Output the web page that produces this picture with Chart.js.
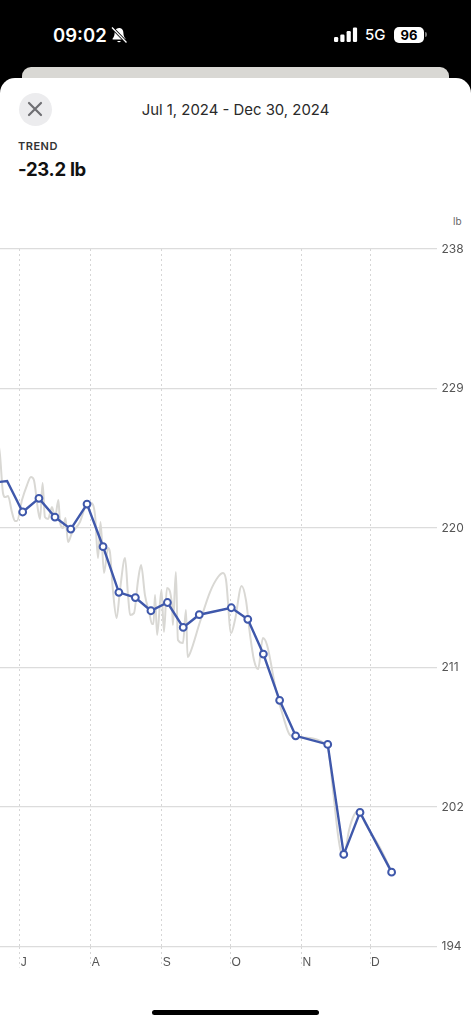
<!DOCTYPE html>
<html>
<head>
<meta charset="utf-8">
<title>Trend</title>
<script src="https://cdn.jsdelivr.net/npm/chart.js@4"></script>
<style>
  html, body { margin: 0; padding: 0; background: #000; }
  body { width: 471px; height: 1024px; position: relative; overflow: hidden; font-family: Inter, "Liberation Sans", sans-serif; }
  .abs { position: absolute; white-space: nowrap; }
  #back { left: 22px; top: 67px; width: 427px; height: 30px; background: #d9d8d4; border-radius: 9px 9px 0 0; }
  #sheet { left: 0; top: 78px; width: 471px; height: 946px; background: #fff; border-radius: 15px 15px 0 0; }
  #close { left: 18.5px; top: 93px; width: 33px; height: 33px; border-radius: 50%; background: #ececee; }
  #range { left: 0; width: 471px; top: 100px; text-align: center; font-size: 14.9px; line-height: 20px; color: #2a2a2a; }
  #label { left: 18px; top: 140px; font-size: 11px; line-height: 13px; font-weight: 600; letter-spacing: .5px; color: #333; }
  #value { left: 18px; top: 158px; font-size: 18.5px; line-height: 23px; font-weight: 700; color: #111; letter-spacing: -.3px; }
  #unit { left: 453px; top: 215px; font-size: 10px; line-height: 13px; color: #666; }
  #time { left: 53px; top: 23px; font-size: 18.5px; line-height: 24px; font-weight: 600; color: #fff; }
  #net { left: 365px; top: 26px; font-size: 15px; line-height: 18px; font-weight: 500; color: #fff; }
  #batt { left: 394px; top: 26.5px; width: 30px; height: 16px; border-radius: 5px; background: #fff; color: #000; text-align: center; font-size: 13px; line-height: 16px; font-weight: 700; }
  #home { left: 152px; top: 1010px; width: 167px; height: 5px; border-radius: 3px; background: #000; }
  #chart { position: absolute; left: 0; top: 240px; }
</style>
</head>
<body>
<div class="abs" id="time">09:02</div>
<svg class="abs" style="left:110px;top:26px" width="18" height="18" viewBox="0 0 18 18">
  <path d="M9 2c-3 0-4.4 2.2-4.4 5 0 3-1.2 4.6-2 5.6v.9h12.8v-.9c-.8-1-2-2.6-2-5.6 0-2.8-1.4-5-4.4-5z M7.2 15a1.9 1.9 0 0 0 3.6 0z" fill="#fff"/>
  <path d="M2 1.5 L16.5 16.5" stroke="#000" stroke-width="3"/>
  <path d="M2 1.5 L16.5 16.5" stroke="#fff" stroke-width="1.3"/>
</svg>
<svg class="abs" style="left:334px;top:27px" width="25" height="16" viewBox="0 0 25 16">
  <rect x="0" y="10" width="4.2" height="5" rx="1.2" fill="#fff"/>
  <rect x="6.3" y="7.5" width="4.2" height="7.5" rx="1.2" fill="#fff"/>
  <rect x="12.6" y="4" width="4.2" height="11" rx="1.2" fill="#fff"/>
  <rect x="18.9" y="0.5" width="4.2" height="14.5" rx="1.2" fill="#fff"/>
</svg>
<div class="abs" id="net">5G</div>
<div class="abs" id="batt">96</div>
<div class="abs" style="left:425px;top:32px;width:2px;height:5px;background:#777;border-radius:0 2px 2px 0"></div>

<div class="abs" id="back"></div>
<div class="abs" id="sheet"></div>
<div class="abs" id="close"></div>
<svg class="abs" style="left:27px;top:101px" width="16" height="16" viewBox="0 0 16 16">
  <path d="M2 2 L14 14 M14 2 L2 14" stroke="#6f6f73" stroke-width="2.2" stroke-linecap="round"/>
</svg>
<div class="abs" id="range">Jul 1, 2024 - Dec 30, 2024</div>
<div class="abs" id="label">TREND</div>
<div class="abs" id="value">-23.2 lb</div>
<div class="abs" id="unit">lb</div>
<div class="abs" id="home"></div>

<canvas id="chart" width="471" height="740"></canvas>

<script>
// Axis ticks (x is days since Jul 1)
const monthDays = [0, 31, 62, 92, 123, 153];
const monthLabels = ['J', 'A', 'S', 'O', 'N', 'D'];
const yTickValues = [194, 202.8, 211.6, 220.4, 229.2, 238];
const yTickLabels = ['194', '202', '211', '220', '229', '238'];

// Weekly trend line
const trendDays = [-12.7, -5.5, 1.3, 8.4, 15.4, 22.3, 29.4, 36.4, 43.3, 50.5, 57.3, 64.5, 71.4, 78.4, 92.4, 99.6, 106.4, 113.5, 120.5, 134.5, 141.5, 148.6, 162.4];
const trendLb = [223.24, 223.36, 221.41, 222.27, 221.09, 220.33, 221.91, 219.22, 216.34, 216.01, 215.18, 215.70, 214.13, 214.93, 215.37, 214.64, 212.45, 209.53, 207.29, 206.75, 199.81, 202.46, 198.69];
const trendMarker = [0, 0, 3.4, 3.4, 3.4, 3.4, 3.4, 3.4, 3.4, 3.4, 3.4, 3.4, 3.4, 3.4, 3.4, 3.4, 3.4, 3.4, 3.4, 3.4, 3.4, 3.4, 3.4];

// Raw weigh-ins
const rawDays = [-9.5, -8.6, -7.3, -6.4, -5.1, -3.4, -2.1, -1.2, 1.0, 3.2, 4.9, 6.2, 8.0, 8.9, 10.0, 11.0, 12.4, 14.1, 15.4, 16.9, 17.6, 18.9, 20.0, 21.1, 22.8, 26.3, 29.0, 31.1, 32.9, 34.2, 35.3, 36.8, 38.6, 39.4, 40.7, 42.3, 43.8, 46.0, 47.3, 48.2, 49.9, 51.7, 53.0, 54.7, 56.5, 57.8, 58.4, 59.1, 60.0, 61.9, 63.0, 64.3, 66.5, 66.9, 68.2, 69.1, 71.3, 72.6, 73.3, 74.4, 78.7, 83.1, 86.6, 88.8, 90.1, 92.3, 94.0, 96.9, 98.8, 100.6, 102.3, 104.1, 106.2, 108.0, 111.9, 115.0, 118.0, 120.7, 134.2, 136.8, 139.0, 140.3, 141.6, 143.8, 146.0, 148.2, 150.8, 157.4, 162.5];
const rawLb = [225.9, 225.0, 222.61, 222.35, 222.42, 221.41, 220.84, 220.84, 222.16, 223.11, 223.62, 223.43, 221.53, 220.97, 223.24, 221.09, 220.97, 221.72, 221.03, 222.16, 220.78, 220.4, 221.03, 219.51, 220.08, 220.78, 221.85, 221.97, 221.22, 218.5, 220.78, 217.56, 219.14, 218.88, 216.49, 214.72, 216.49, 218.5, 216.17, 214.91, 215.03, 217.12, 218.06, 216.17, 215.1, 214.34, 214.34, 216.17, 213.65, 216.49, 213.84, 216.61, 215.54, 214.28, 217.62, 213.33, 213.14, 215.22, 212.26, 212.51, 214.47, 216.36, 217.31, 217.56, 217.12, 213.77, 214.59, 216.74, 215.85, 213.65, 212.07, 211.5, 213.46, 213.02, 210.18, 208.54, 207.34, 207.21, 206.71, 203.87, 201.03, 199.96, 199.77, 201.34, 202.29, 202.54, 201.78, 200.21, 198.69];

const toPoints = (xs, ys) => xs.map((x, i) => ({ x: x, y: ys[i] }));

new Chart(document.getElementById('chart').getContext('2d'), {
  type: 'line',
  data: {
    datasets: [
      {
        label: 'Trend',
        data: toPoints(trendDays, trendLb),
        order: 1,
        borderColor: '#3f58ab',
        borderWidth: 2.4,
        tension: 0,
        pointRadius: trendMarker,
        pointBackgroundColor: '#ffffff',
        pointBorderColor: '#3f58ab',
        pointBorderWidth: 2
      },
      {
        label: 'Weight',
        data: toPoints(rawDays, rawLb),
        order: 2,
        borderColor: '#d9d8d4',
        borderWidth: 2,
        cubicInterpolationMode: 'monotone',
        pointRadius: 0
      }
    ]
  },
  options: {
    responsive: false,
    animation: false,
    layout: { autoPadding: false, padding: { top: 9 } },
    plugins: { legend: { display: false }, tooltip: { enabled: false } },
    scales: {
      x: {
        type: 'linear',
        min: -8.6,
        max: 182,
        afterBuildTicks: axis => { axis.ticks = monthDays.map(d => ({ value: d })); },
        afterFit: axis => { axis.height = 33.5; axis.paddingLeft = 0; axis.paddingRight = 0; },
        border: { display: false, dash: [2, 3] },
        grid: {
          color: '#d6d6d6',
          lineWidth: 1,
          tickLength: 21,
          tickColor: '#d6d6d6',
          tickBorderDash: [2, 3]
        },
        ticks: {
          align: 'start',
          labelOffset: 1,
          padding: -12,
          maxRotation: 0,
          autoSkip: false,
          color: '#555',
          font: { family: 'Liberation Sans', size: 12 },
          callback: (v, i) => monthLabels[i]
        }
      },
      y: {
        type: 'linear',
        position: 'right',
        min: 194,
        max: 238,
        afterBuildTicks: axis => { axis.ticks = yTickValues.map(v => ({ value: v })); },
        afterFit: axis => { axis.width = 34.5; axis.paddingTop = 0; axis.paddingBottom = 0; },
        border: { display: false },
        grid: { color: '#dcdcdc', lineWidth: 1.2, drawTicks: false },
        ticks: {
          crossAlign: 'near',
          padding: 5,
          color: '#555',
          font: { family: 'Inter', size: 12 },
          callback: (v, i) => yTickLabels[i]
        }
      }
    }
  }
});
</script>
</body>
</html>
